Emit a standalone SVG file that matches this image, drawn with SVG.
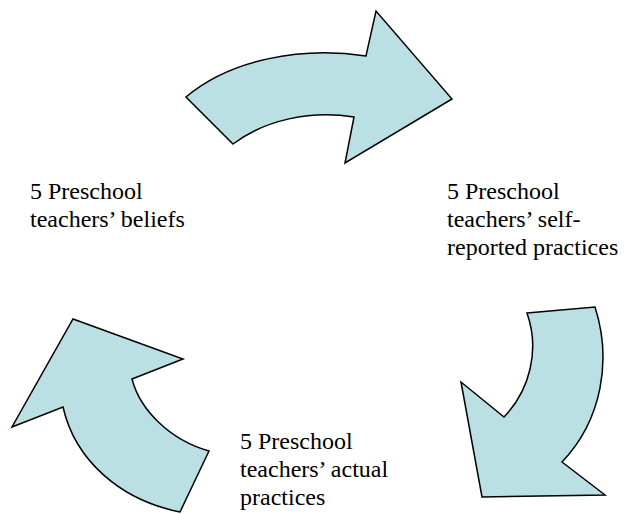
<svg xmlns="http://www.w3.org/2000/svg" width="625" height="514" viewBox="0 0 625 514">
  <rect width="625" height="514" fill="#ffffff"/>

  <!-- curved block arrows forming the cycle -->
  <g id="connectors" fill="#bbe0e3" stroke="#000000" stroke-width="1.5">
    <path id="arrow-top"
      d="M186,97 C230,60 300,46 366,56 L376,11 L452,99 L345,163 L354,117 C310,110 265,120 233,144 Z"/>
    <path id="arrow-right"
      d="M527,313 L595,307 C612,360 602,420 562,462 L605,495 L482,497 L461,382 L504,417 C530,390 540,350 527,313 Z"/>
    <path id="arrow-left"
      d="M209,451 L180,512 C120,500 75,460 63,407 L12,427 L73,319 L183,359 L132,379 C140,410 170,440 209,451 Z"/>
  </g>

  <g id="node-beliefs" style="font-family: 'Liberation Serif', 'Times New Roman', serif; font-size: 24px">
    <text x="30" y="199" style="font-family: 'Liberation Serif', 'Times New Roman', serif; font-size: 24px">5 Preschool</text>
    <text x="30" y="227" style="font-family: 'Liberation Serif', 'Times New Roman', serif; font-size: 24px">teachers&#8217; beliefs</text>
  </g>

  <g id="node-self-reported" style="font-family: 'Liberation Serif', 'Times New Roman', serif; font-size: 24px">
    <text x="447" y="199" style="font-family: 'Liberation Serif', 'Times New Roman', serif; font-size: 24px">5 Preschool</text>
    <text x="447" y="227" style="font-family: 'Liberation Serif', 'Times New Roman', serif; font-size: 24px">teachers&#8217; self-</text>
    <text x="447" y="255" style="font-family: 'Liberation Serif', 'Times New Roman', serif; font-size: 24px">reported practices</text>
  </g>

  <g id="node-actual" style="font-family: 'Liberation Serif', 'Times New Roman', serif; font-size: 24px">
    <text x="240" y="449" style="font-family: 'Liberation Serif', 'Times New Roman', serif; font-size: 24px">5 Preschool</text>
    <text x="240" y="477" style="font-family: 'Liberation Serif', 'Times New Roman', serif; font-size: 24px">teachers&#8217; actual</text>
    <text x="240" y="505" style="font-family: 'Liberation Serif', 'Times New Roman', serif; font-size: 24px">practices</text>
  </g>
</svg>
